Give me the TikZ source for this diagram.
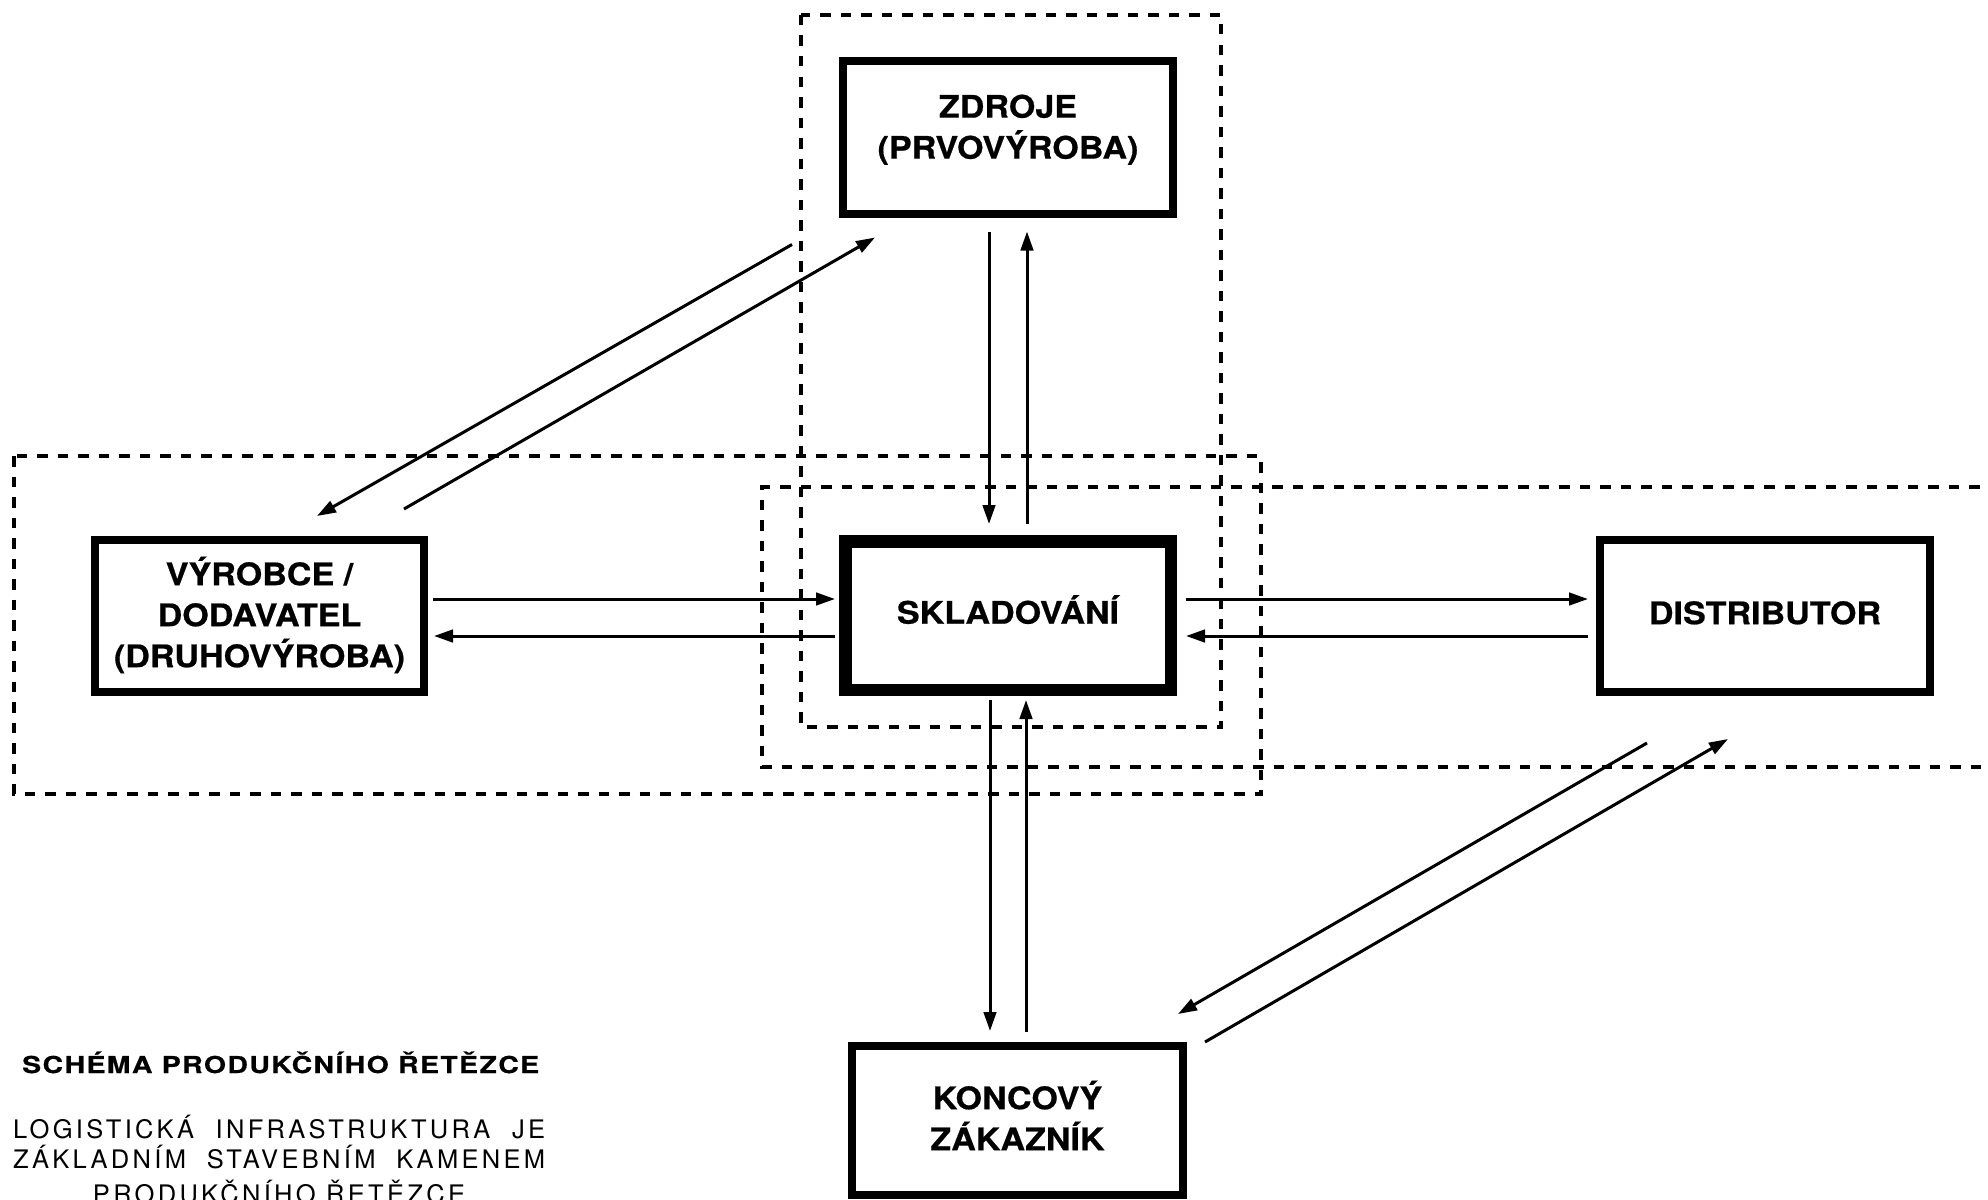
\documentclass[tikz,border=0pt]{standalone}
\usepackage{fontspec}
\setmainfont{TeX Gyre Heros}
\newfontfamily\boxfont[FakeStretch=1.1,FakeBold=0.6]{TeX Gyre Heros}
\newfontfamily\titlefont[FakeStretch=1.22,LetterSpace=6,FakeBold=0.5]{TeX Gyre Heros}
\newfontfamily\bodyfont[LetterSpace=13]{TeX Gyre Heros}
\usetikzlibrary{arrows.meta,calc}
\begin{document}
\begin{tikzpicture}[x=1pt,y=-1pt,
  box/.style={draw,fill=white,line width=8pt,outer sep=4pt,inner sep=0pt,minimum width=330pt,minimum height=152pt},
  mainbox/.style={box,line width=12.5pt,outer sep=6.25pt,minimum width=325.5pt,minimum height=148.5pt},
  lbl/.style={font=\boxfont\bfseries\fontsize{31}{41}\selectfont,align=center,inner sep=0pt,text height=22.3pt,text depth=0pt},
  lbltwo/.style={lbl,text height=63.3pt},
  lblthree/.style={lbl,text height=104.3pt},
  arr/.style={line width=3pt,-{Triangle[length=19pt,width=12.5pt]}},
  dsh/.style={line width=3.3pt,dash pattern=on 10.5pt off 10pt},
  titlestyle/.style={font=\titlefont\bfseries\fontsize{23.3}{28}\selectfont,inner sep=0pt},
  bodystyle/.style={font=\bodyfont\fontsize{25.5}{30}\selectfont,inner sep=0pt}]
\useasboundingbox (0,0) rectangle (1988,1199);
% dashed groupings
\draw[dsh] (801,15) rectangle (1221,727);
\draw[dsh] (14,456) rectangle (1261,794);
\draw[dsh] (2000,487) -- (762,487) -- (762,767) -- (2000,767);
% boxes
\node[box] (zdroje) at (1008,137.5) {};
\node[box,minimum width=329pt] (vyr) at (259.5,616) {};
\node[mainbox] (sklad) at (1008,615.5) {};
\node[box] (dist) at (1765,616) {};
\node[box,minimum width=331pt,minimum height=149pt] (konc) at (1017.5,1120.5) {};
% labels
\node[lbltwo] (zdrojeT) at (1008,127) {ZDROJE\\(PRVOVÝROBA)};
\node[lblthree] (vyrT) at (259.5,615) {VÝROBCE /\\DODAVATEL\\(DRUHOVÝROBA)};
\node[lbl] (skladT) at (1008,612.5) {SKLADOVÁNÍ};
\node[lbl] (distT) at (1765,613) {DISTRIBUTOR};
\node[lbltwo] (koncT) at (1017.5,1118.5) {KONCOVÝ\\ZÁKAZNÍK};
% vertical arrows
\draw[arr] ($(zdroje.south)+(-19,14)$) -- ($(sklad.north)+(-19,-11)$);
\draw[arr] ($(sklad.north)+(19,-11)$) -- ($(zdroje.south)+(19,14)$);
\draw[arr] ($(sklad.south)+(-18,4)$) -- ($(konc.north)+(-27.5,-11)$);
\draw[arr] ($(konc.north)+(8.5,-10)$) -- ($(sklad.south)+(18,4)$);
% horizontal arrows
\draw[arr] ($(vyr.east)+(5,-17)$) -- ($(sklad.west)+(-4,-16.5)$);
\draw[arr] ($(sklad.west)+(-4,20.5)$) -- ($(vyr.east)+(6,20)$);
\draw[arr] ($(sklad.east)+(9,-16.5)$) -- ($(dist.west)+(-8,-17)$);
\draw[arr] ($(dist.west)+(-8,20)$) -- ($(sklad.east)+(9,20.5)$);
% diagonal arrows
\draw[arr] ($(zdroje.south west)+(-47,27)$) -- ($(vyr.north)+(57.5,-20)$);
\draw[arr] ($(vyr.north east)+(-24,-27)$) -- ($(zdroje.south west)+(36,20)$);
\draw[arr] ($(dist.south west)+(51,47)$) -- ($(konc.north east)+(-9,-28)$);
\draw[arr] ($(konc.north east)+(18,0)$) -- ($(dist.south west)+(132,43)$);
% caption
\node[titlestyle,anchor=base west] (title) at (22,1073) {SCHÉMA PRODUKČNÍHO ŘETĚZCE};
\node[bodystyle,anchor=base west] (body1) at (13,1138) {\makebox[532pt][s]{LOGISTICKÁ INFRASTRUKTURA JE}};
\node[bodystyle,anchor=base west] (body2) at (13,1168) {\makebox[532pt][s]{ZÁKLADNÍM STAVEBNÍM KAMENEM}};
\node[bodystyle,anchor=base] (body3) at (279,1203) {PRODUKČNÍHO ŘETĚZCE};
\end{tikzpicture}
\end{document}
